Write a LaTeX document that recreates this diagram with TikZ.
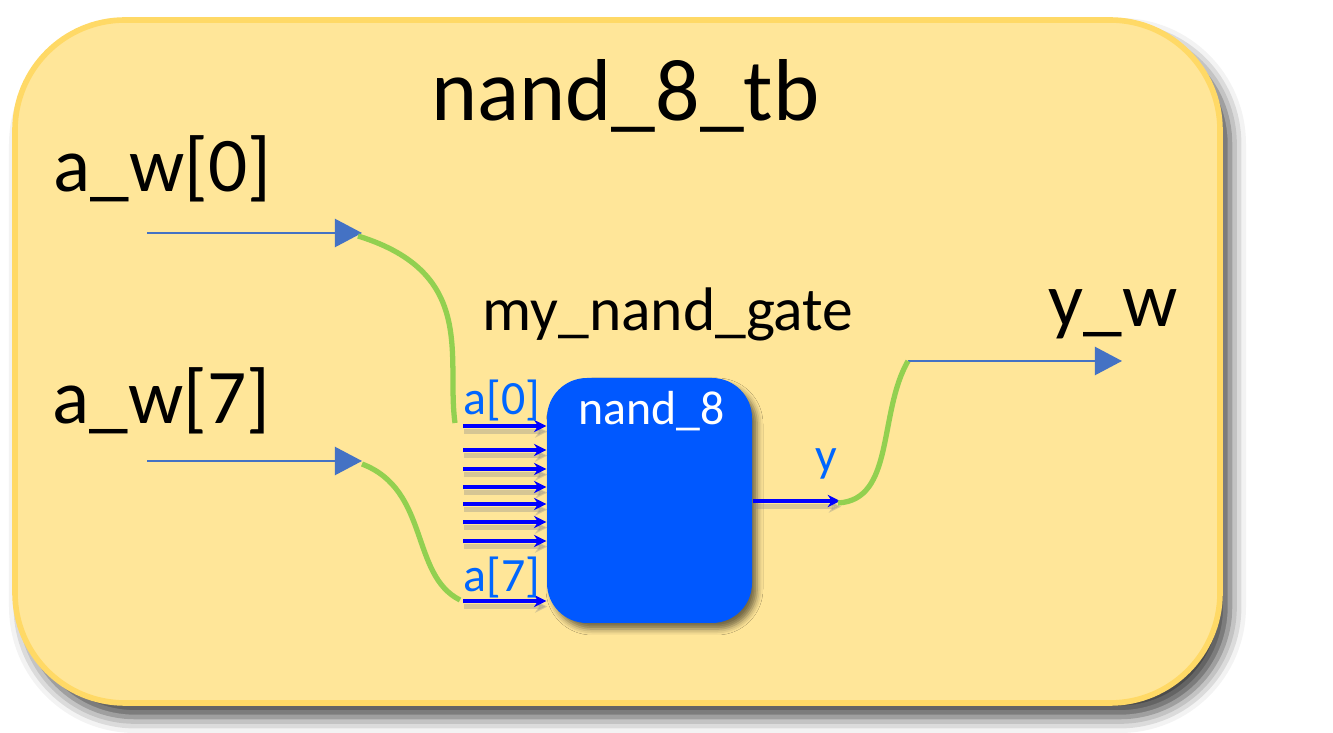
\documentclass[tikz,border=0pt]{standalone}
\usepackage{fontspec}
\setmainfont{Carlito}
\usepackage{tikz}
\usetikzlibrary{arrows.meta,calc,positioning,shadows.blur}
\definecolor{tbfill}{HTML}{FFE699}
\definecolor{tbline}{HTML}{FFD966}
\definecolor{wireblue}{HTML}{4472C4}
\definecolor{netgreen}{HTML}{92D050}
\definecolor{dutblue}{HTML}{0058FF}
\definecolor{pinblue}{HTML}{0000FF}
\definecolor{pinlabel}{HTML}{0066FF}
\tikzset{
	tbbox/.style={draw=tbline,line width=1.6pt,fill=tbfill,rounded corners=1.1cm,
		blur shadow={shadow xshift=1.0mm,shadow yshift=-1.4mm,shadow blur radius=1.6mm,shadow opacity=75}},
	dutbox/.style={fill=dutblue,rounded corners=0.4cm,inner sep=0pt,
		blur shadow={shadow xshift=0.5mm,shadow yshift=-0.6mm,shadow blur radius=0.6mm,shadow opacity=55}},
	txt/.style={inner sep=0pt,anchor=base west},
	tbwire/.style={draw=wireblue,line width=0.55pt,-{Triangle[length=7.7pt,width=8pt]}},
	pinarrow/.style={draw=pinblue,line width=0.9pt,-{Stealth[length=3.5pt,width=3.5pt]},
		preaction={draw=black!45,opacity=.35,line width=1.6pt,transform canvas={shift={(0.3pt,-1.6pt)}}}},
	net/.style={draw=netgreen,line width=1.5pt},
}
\begin{document}
\begin{tikzpicture}
\useasboundingbox (0,0) rectangle (13.33,7.33);
\path [tbbox] (0.15,0.30) rectangle (12.20,7.13);
\node (title) at (6.255,6.12) [inner sep=0pt,anchor=base] {\fontsize{25pt}{30pt}\selectfont nand\_8\_tb};
\node (aw0) at (0.53,5.41) [txt] {\fontsize{22pt}{26pt}\selectfont a\_w[0]};
\node (aw7) at (0.52,3.09) [txt] {\fontsize{22pt}{26pt}\selectfont a\_w[7]};
\node (yw) at (10.48,4.06) [txt] {\fontsize{22pt}{26pt}\selectfont y\_w};
\node (inst) at (4.82,4.02) [txt] {\fontsize{17.5pt}{21pt}\selectfont my\_nand\_gate};
% the nand_8 block
\node (dut) at (6.495,2.325) [dutbox,minimum width=2.05cm,minimum height=2.45cm] {};
\node (dutname) at (6.515,3.08) [inner sep=0pt,anchor=base,text=white] {\fontsize{13.6pt}{16pt}\selectfont nand\_8};
\foreach \y [count=\i] in {3.07,2.83,2.64,2.46,2.29,2.11,1.92,1.32}
	\draw [pinarrow] (4.63,\y) coordinate (p\i) -- (p\i-|dut.west);
\node (a0) at (4.63,3.18) [txt,text=pinlabel] {\fontsize{13.6pt}{16pt}\selectfont a[0]};
\node (a7) at (4.63,1.41) [txt,text=pinlabel] {\fontsize{13.6pt}{16pt}\selectfont a[7]};
\coordinate (yo) at (8.40,2.32);
\draw [pinarrow] (dut.east|-yo) -- (yo);
\node (ylab) at (8.15,2.61) [txt,text=pinlabel] {\fontsize{13.6pt}{16pt}\selectfont y};
% testbench wires
\draw [tbwire] (1.47,5.00) coordinate (w0s) -- (3.62,5.00) coordinate (w0);
\draw [tbwire] (1.47,2.72) coordinate (w7s) -- (3.62,2.72) coordinate (w7);
\coordinate (ywin) at (9.08,3.72);
\draw [tbwire] (ywin) -- (11.22,3.72) coordinate (ywout);
% green nets
\draw [net] ($(w0)+(-0.04,-0.03)$) .. controls (4.78,4.60) and (4.46,3.75) .. ($(p1)+(-0.08,0.03)$);
\draw [net] ($(w7)+(0,-0.03)$) .. controls (4.30,2.43) and (4.10,1.58) .. ($(p8)+(-0.03,0.01)$);
\draw [net] ($(yo)+(-0.02,-0.02)$) .. controls (8.95,2.33) and (8.78,3.20) .. (ywin);
\end{tikzpicture}
\end{document}
